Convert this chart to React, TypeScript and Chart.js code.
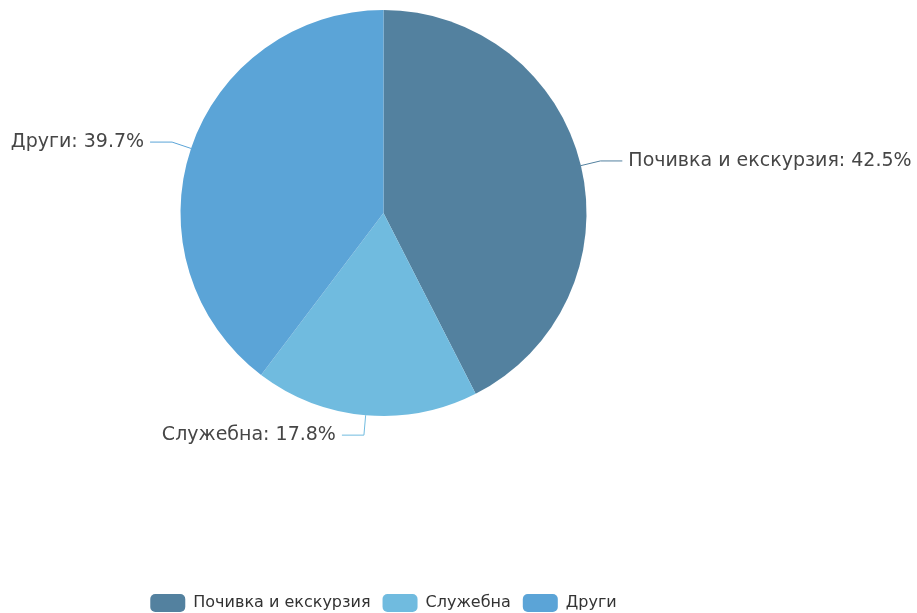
import React, { useEffect, useRef } from "react";
import { Chart, registerables } from "chart.js";

Chart.register(...registerables);

const categories = ["Почивка и екскурзия", "Служебна", "Други"];
const shares = [42.5, 17.8, 39.7];
const sliceColors = ["#53819f", "#70bbdf", "#5ba4d7"];

const FONT = "'DejaVu Sans', sans-serif";

const outerLabels = {
  id: "outerLabels",
  afterDraw(chart: any) {
    const ctx = chart.ctx;
    const meta = chart.getDatasetMeta(0);
    const data = chart.data.datasets[0].data as number[];
    ctx.save();
    meta.data.forEach((arc: any, i: number) => {
      const { x, y, startAngle, endAngle, outerRadius } = arc.getProps(
        ["x", "y", "startAngle", "endAngle", "outerRadius"],
        true
      );
      const mid = (startAngle + endAngle) / 2;
      const c = Math.cos(mid);
      const s = Math.sin(mid);
      const x0 = x + c * outerRadius;
      const y0 = y + s * outerRadius;
      const x1 = x + c * (outerRadius + 20);
      const y1 = y + s * (outerRadius + 20);
      const dir = c >= 0 ? 1 : -1;
      const x2 = x1 + dir * 22;
      ctx.strokeStyle = sliceColors[i];
      ctx.lineWidth = 1;
      ctx.beginPath();
      ctx.moveTo(x0, y0);
      ctx.lineTo(x1, y1);
      ctx.lineTo(x2, y1);
      ctx.stroke();
      ctx.fillStyle = "#464646";
      ctx.font = `19px ${FONT}`;
      ctx.textBaseline = "middle";
      ctx.textAlign = dir > 0 ? "left" : "right";
      ctx.fillText(
        `${chart.data.labels[i]}: ${data[i].toFixed(1)}%`,
        x2 + dir * 6,
        y1
      );
    });
    ctx.restore();
  },
};

export default function App() {
  const ref = useRef<HTMLCanvasElement | null>(null);
  useEffect(() => {
    if (!ref.current) return;
    const chart = new Chart(ref.current, {
      type: "pie",
      data: {
        labels: categories,
        datasets: [
          {
            data: shares,
            backgroundColor: sliceColors,
            borderWidth: 0,
          },
        ],
      },
      options: {
        animation: false,
        responsive: false,
        maintainAspectRatio: false,
        layout: { padding: { top: 10, left: 0, right: 150, bottom: 0 } },
        plugins: {
          tooltip: { enabled: false },
          legend: {
            position: "bottom",
            title: {
              display: true,
              text: "",
              font: { size: 1, lineHeight: 1 },
              padding: { top: 165, bottom: 0 },
            },
            labels: {
              font: { family: FONT, size: 16 },
              color: "#333",
              boxWidth: 35,
              boxHeight: 18,
              useBorderRadius: true,
              borderRadius: 5,
              padding: 12,
            },
          },
        },
      },
      plugins: [outerLabels],
    });
    return () => chart.destroy();
  }, []);
  return (
    <div style={{ position: "absolute", left: 0, top: 0, width: 917, height: 622 }}>
      <canvas ref={ref} width={917} height={622} style={{ width: 917, height: 622 }} />
    </div>
  );
}
